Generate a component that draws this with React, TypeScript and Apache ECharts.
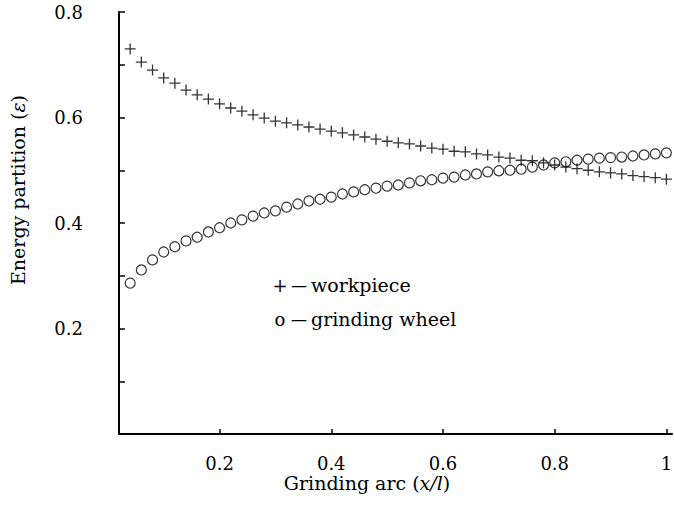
import React, { useEffect, useRef } from "react";
import * as echarts from "echarts";

const xValues = [
  0.04, 0.06, 0.08, 0.1, 0.12, 0.14, 0.16, 0.18, 0.2, 0.22,
  0.24, 0.26, 0.28, 0.3, 0.32, 0.34, 0.36, 0.38, 0.4, 0.42,
  0.44, 0.46, 0.48, 0.5, 0.52, 0.54, 0.56, 0.58, 0.6, 0.62,
  0.64, 0.66, 0.68, 0.7, 0.72, 0.74, 0.76, 0.78, 0.8, 0.82,
  0.84, 0.86, 0.88, 0.9, 0.92, 0.94, 0.96, 0.98, 1.0,
];

const workpiece = [
  0.730, 0.705, 0.690, 0.675, 0.665, 0.652, 0.643, 0.635, 0.626, 0.618,
  0.612, 0.605, 0.599, 0.593, 0.590, 0.586, 0.582, 0.578, 0.574, 0.571,
  0.567, 0.563, 0.559, 0.555, 0.552, 0.550, 0.546, 0.542, 0.540, 0.536,
  0.535, 0.531, 0.529, 0.525, 0.523, 0.519, 0.518, 0.514, 0.510, 0.506,
  0.503, 0.500, 0.497, 0.495, 0.493, 0.490, 0.488, 0.486, 0.483,
];

const grindingWheel = [
  0.286, 0.311, 0.330, 0.345, 0.355, 0.366, 0.373, 0.383, 0.391, 0.400,
  0.406, 0.413, 0.419, 0.423, 0.430, 0.436, 0.442, 0.445, 0.449, 0.455,
  0.459, 0.463, 0.466, 0.470, 0.472, 0.476, 0.480, 0.482, 0.485, 0.487,
  0.491, 0.493, 0.497, 0.499, 0.500, 0.502, 0.506, 0.510, 0.514, 0.516,
  0.519, 0.521, 0.523, 0.524, 0.525, 0.527, 0.529, 0.531, 0.533,
];

const xTickValues = [0.2, 0.4, 0.6, 0.8, 1];
const yLabelValues = [0.2, 0.4, 0.6, 0.8];

const FONT = "'DejaVu Serif', serif";

export default function App() {
  const ref = useRef<HTMLDivElement>(null);

  useEffect(() => {
    if (!ref.current) return;
    const chart = echarts.init(ref.current, null, { renderer: "svg" });

    const wpData = xValues.map((x, i) => [x, workpiece[i]]);
    const gwData = xValues.map((x, i) => [x, grindingWheel[i]]);

    chart.setOption({
      animation: false,
      backgroundColor: "#fff",
      grid: {
        left: 119,
        right: 2,
        top: 12,
        bottom: 89,
        containLabel: false,
        outerBoundsMode: "none",
      },
      xAxis: {
        type: "value",
        min: 0.02,
        max: 1.01,
        axisLine: { show: true, lineStyle: { color: "#000", width: 2 } },
        axisTick: {
          show: true,
          inside: true,
          length: 5,
          customValues: xTickValues,
          lineStyle: { color: "#000", width: 1.5 },
        },
        axisLabel: {
          customValues: xTickValues,
          color: "#000",
          fontFamily: FONT,
          fontSize: 18,
          margin: 20,
          formatter: (v: number) => String(Math.round(v * 10) / 10),
        },
        splitLine: { show: false },
      },
      yAxis: {
        type: "value",
        min: 0,
        max: 0.8,
        interval: 0.1,
        axisLine: { show: true, lineStyle: { color: "#000", width: 2 } },
        axisTick: {
          show: true,
          inside: true,
          length: 6,
          lineStyle: { color: "#000", width: 1.5 },
        },
        axisLabel: {
          color: "#000",
          fontFamily: FONT,
          fontSize: 18,
          margin: 36,
          formatter: (v: number) => {
            const r = Math.round(v * 10) / 10;
            return yLabelValues.some((t) => Math.abs(t - r) < 1e-6) ? r.toFixed(1) : "";
          },
        },
        splitLine: { show: false },
      },
      series: [
        {
          name: "workpiece",
          type: "scatter",
          data: wpData,
          symbol: "path://M5,0L5,10M0,5L10,5",
          symbolSize: 11,
          itemStyle: { color: "transparent", borderColor: "#000", borderWidth: 1.3 },
        },
        {
          name: "grinding wheel",
          type: "scatter",
          data: gwData,
          symbol: "circle",
          symbolSize: 10,
          itemStyle: { color: "transparent", borderColor: "#000", borderWidth: 1.2 },
        },
      ],
      graphic: [
        {
          type: "text",
          x: 18,
          y: 190,
          rotation: Math.PI / 2,
          style: {
            text: "Energy partition ({i|ε})",
            font: `19px ${FONT}`,
            fill: "#000",
            align: "center",
            verticalAlign: "middle",
            rich: { i: { fontStyle: "italic", fontSize: 19, fontFamily: FONT } },
          },
        },
        {
          type: "text",
          x: 367,
          y: 483,
          style: {
            text: "Grinding arc ({i|x/l})",
            font: `19px ${FONT}`,
            fill: "#000",
            align: "center",
            verticalAlign: "middle",
            rich: { i: { fontStyle: "italic", fontSize: 19, fontFamily: FONT } },
          },
        },
        {
          type: "text",
          x: 280,
          y: 285,
          style: { text: "+", font: `18px ${FONT}`, fill: "#000", align: "center", verticalAlign: "middle" },
        },
        {
          type: "text",
          x: 280,
          y: 319,
          style: { text: "o", font: `18px ${FONT}`, fill: "#000", align: "center", verticalAlign: "middle" },
        },
        {
          type: "text",
          x: 299,
          y: 285,
          style: { text: "—", font: `16px ${FONT}`, fill: "#000", align: "center", verticalAlign: "middle" },
        },
        {
          type: "text",
          x: 299,
          y: 319,
          style: { text: "—", font: `16px ${FONT}`, fill: "#000", align: "center", verticalAlign: "middle" },
        },
        {
          type: "text",
          x: 311,
          y: 285,
          style: { text: "workpiece", font: `19px ${FONT}`, fill: "#000", align: "left", verticalAlign: "middle" },
        },
        {
          type: "text",
          x: 311,
          y: 319,
          style: { text: "grinding wheel", font: `19px ${FONT}`, fill: "#000", align: "left", verticalAlign: "middle" },
        },
      ],
    });

    return () => chart.dispose();
  }, []);

  return (
    <div
      ref={ref}
      style={{ position: "fixed", left: 0, top: 0, width: 674, height: 523, background: "#fff" }}
    />
  );
}
